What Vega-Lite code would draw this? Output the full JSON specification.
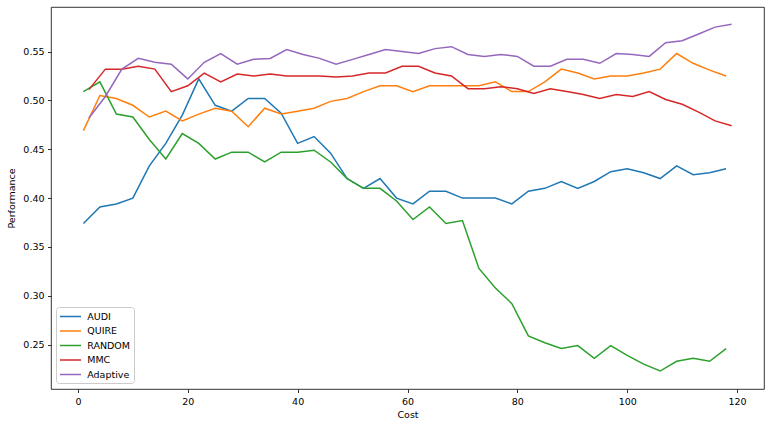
{
  "$schema": "https://vega.github.io/schema/vega-lite/v6.json",
  "width": 713,
  "height": 382,
  "autosize": "none",
  "padding": {"left": 51, "top": 7, "right": 6, "bottom": 32},
  "data": {"values": [
    {"s":"AUDI","c":1,"p":0.374},{"s":"AUDI","c":4,"p":0.391},{"s":"AUDI","c":7,"p":0.394},{"s":"AUDI","c":10,"p":0.400},{"s":"AUDI","c":13,"p":0.433},{"s":"AUDI","c":16,"p":0.456},{"s":"AUDI","c":19,"p":0.485},{"s":"AUDI","c":22,"p":0.522},{"s":"AUDI","c":25,"p":0.495},{"s":"AUDI","c":28,"p":0.489},{"s":"AUDI","c":31,"p":0.502},{"s":"AUDI","c":34,"p":0.502},{"s":"AUDI","c":37,"p":0.487},{"s":"AUDI","c":40,"p":0.456},{"s":"AUDI","c":43,"p":0.463},{"s":"AUDI","c":46,"p":0.446},{"s":"AUDI","c":49,"p":0.420},{"s":"AUDI","c":52,"p":0.410},{"s":"AUDI","c":55,"p":0.420},{"s":"AUDI","c":58,"p":0.400},{"s":"AUDI","c":61,"p":0.394},{"s":"AUDI","c":64,"p":0.407},{"s":"AUDI","c":67,"p":0.407},{"s":"AUDI","c":70,"p":0.400},{"s":"AUDI","c":73,"p":0.400},{"s":"AUDI","c":76,"p":0.400},{"s":"AUDI","c":79,"p":0.394},{"s":"AUDI","c":82,"p":0.407},{"s":"AUDI","c":85,"p":0.410},{"s":"AUDI","c":88,"p":0.417},{"s":"AUDI","c":91,"p":0.410},{"s":"AUDI","c":94,"p":0.417},{"s":"AUDI","c":97,"p":0.427},{"s":"AUDI","c":100,"p":0.430},{"s":"AUDI","c":103,"p":0.426},{"s":"AUDI","c":106,"p":0.420},{"s":"AUDI","c":109,"p":0.433},{"s":"AUDI","c":112,"p":0.424},{"s":"AUDI","c":115,"p":0.426},{"s":"AUDI","c":118,"p":0.430},
    {"s":"QUIRE","c":1,"p":0.469},{"s":"QUIRE","c":4,"p":0.505},{"s":"QUIRE","c":7,"p":0.502},{"s":"QUIRE","c":10,"p":0.495},{"s":"QUIRE","c":13,"p":0.483},{"s":"QUIRE","c":16,"p":0.489},{"s":"QUIRE","c":19,"p":0.479},{"s":"QUIRE","c":22,"p":0.486},{"s":"QUIRE","c":25,"p":0.492},{"s":"QUIRE","c":28,"p":0.489},{"s":"QUIRE","c":31,"p":0.473},{"s":"QUIRE","c":34,"p":0.492},{"s":"QUIRE","c":37,"p":0.486},{"s":"QUIRE","c":40,"p":0.489},{"s":"QUIRE","c":43,"p":0.492},{"s":"QUIRE","c":46,"p":0.499},{"s":"QUIRE","c":49,"p":0.502},{"s":"QUIRE","c":52,"p":0.509},{"s":"QUIRE","c":55,"p":0.515},{"s":"QUIRE","c":58,"p":0.515},{"s":"QUIRE","c":61,"p":0.509},{"s":"QUIRE","c":64,"p":0.515},{"s":"QUIRE","c":67,"p":0.515},{"s":"QUIRE","c":70,"p":0.515},{"s":"QUIRE","c":73,"p":0.515},{"s":"QUIRE","c":76,"p":0.519},{"s":"QUIRE","c":79,"p":0.509},{"s":"QUIRE","c":82,"p":0.509},{"s":"QUIRE","c":85,"p":0.519},{"s":"QUIRE","c":88,"p":0.532},{"s":"QUIRE","c":91,"p":0.528},{"s":"QUIRE","c":94,"p":0.522},{"s":"QUIRE","c":97,"p":0.525},{"s":"QUIRE","c":100,"p":0.525},{"s":"QUIRE","c":103,"p":0.528},{"s":"QUIRE","c":106,"p":0.532},{"s":"QUIRE","c":109,"p":0.548},{"s":"QUIRE","c":112,"p":0.538},{"s":"QUIRE","c":115,"p":0.531},{"s":"QUIRE","c":118,"p":0.525},
    {"s":"RANDOM","c":1,"p":0.509},{"s":"RANDOM","c":4,"p":0.519},{"s":"RANDOM","c":7,"p":0.486},{"s":"RANDOM","c":10,"p":0.483},{"s":"RANDOM","c":13,"p":0.460},{"s":"RANDOM","c":16,"p":0.440},{"s":"RANDOM","c":19,"p":0.466},{"s":"RANDOM","c":22,"p":0.456},{"s":"RANDOM","c":25,"p":0.440},{"s":"RANDOM","c":28,"p":0.447},{"s":"RANDOM","c":31,"p":0.447},{"s":"RANDOM","c":34,"p":0.437},{"s":"RANDOM","c":37,"p":0.447},{"s":"RANDOM","c":40,"p":0.447},{"s":"RANDOM","c":43,"p":0.449},{"s":"RANDOM","c":46,"p":0.437},{"s":"RANDOM","c":49,"p":0.420},{"s":"RANDOM","c":52,"p":0.410},{"s":"RANDOM","c":55,"p":0.410},{"s":"RANDOM","c":58,"p":0.397},{"s":"RANDOM","c":61,"p":0.378},{"s":"RANDOM","c":64,"p":0.391},{"s":"RANDOM","c":67,"p":0.374},{"s":"RANDOM","c":70,"p":0.377},{"s":"RANDOM","c":73,"p":0.328},{"s":"RANDOM","c":76,"p":0.308},{"s":"RANDOM","c":79,"p":0.292},{"s":"RANDOM","c":82,"p":0.259},{"s":"RANDOM","c":85,"p":0.252},{"s":"RANDOM","c":88,"p":0.246},{"s":"RANDOM","c":91,"p":0.249},{"s":"RANDOM","c":94,"p":0.236},{"s":"RANDOM","c":97,"p":0.249},{"s":"RANDOM","c":100,"p":0.239},{"s":"RANDOM","c":103,"p":0.230},{"s":"RANDOM","c":106,"p":0.223},{"s":"RANDOM","c":109,"p":0.233},{"s":"RANDOM","c":112,"p":0.236},{"s":"RANDOM","c":115,"p":0.233},{"s":"RANDOM","c":118,"p":0.246},
    {"s":"MMC","c":2,"p":0.511},{"s":"MMC","c":5,"p":0.532},{"s":"MMC","c":8,"p":0.532},{"s":"MMC","c":11,"p":0.535},{"s":"MMC","c":14,"p":0.532},{"s":"MMC","c":17,"p":0.509},{"s":"MMC","c":20,"p":0.515},{"s":"MMC","c":23,"p":0.528},{"s":"MMC","c":26,"p":0.519},{"s":"MMC","c":29,"p":0.527},{"s":"MMC","c":32,"p":0.525},{"s":"MMC","c":35,"p":0.527},{"s":"MMC","c":38,"p":0.525},{"s":"MMC","c":41,"p":0.525},{"s":"MMC","c":44,"p":0.525},{"s":"MMC","c":47,"p":0.524},{"s":"MMC","c":50,"p":0.525},{"s":"MMC","c":53,"p":0.528},{"s":"MMC","c":56,"p":0.528},{"s":"MMC","c":59,"p":0.535},{"s":"MMC","c":62,"p":0.535},{"s":"MMC","c":65,"p":0.528},{"s":"MMC","c":68,"p":0.525},{"s":"MMC","c":71,"p":0.512},{"s":"MMC","c":74,"p":0.512},{"s":"MMC","c":77,"p":0.514},{"s":"MMC","c":80,"p":0.512},{"s":"MMC","c":83,"p":0.507},{"s":"MMC","c":86,"p":0.512},{"s":"MMC","c":89,"p":0.509},{"s":"MMC","c":92,"p":0.506},{"s":"MMC","c":95,"p":0.502},{"s":"MMC","c":98,"p":0.506},{"s":"MMC","c":101,"p":0.504},{"s":"MMC","c":104,"p":0.509},{"s":"MMC","c":107,"p":0.501},{"s":"MMC","c":110,"p":0.496},{"s":"MMC","c":113,"p":0.488},{"s":"MMC","c":116,"p":0.479},{"s":"MMC","c":119,"p":0.474},
    {"s":"Adaptive","c":2,"p":0.482},{"s":"Adaptive","c":5,"p":0.504},{"s":"Adaptive","c":8,"p":0.532},{"s":"Adaptive","c":11,"p":0.543},{"s":"Adaptive","c":14,"p":0.539},{"s":"Adaptive","c":17,"p":0.537},{"s":"Adaptive","c":20,"p":0.522},{"s":"Adaptive","c":23,"p":0.539},{"s":"Adaptive","c":26,"p":0.548},{"s":"Adaptive","c":29,"p":0.537},{"s":"Adaptive","c":32,"p":0.542},{"s":"Adaptive","c":35,"p":0.543},{"s":"Adaptive","c":38,"p":0.552},{"s":"Adaptive","c":41,"p":0.547},{"s":"Adaptive","c":44,"p":0.543},{"s":"Adaptive","c":47,"p":0.537},{"s":"Adaptive","c":50,"p":0.542},{"s":"Adaptive","c":53,"p":0.547},{"s":"Adaptive","c":56,"p":0.552},{"s":"Adaptive","c":59,"p":0.550},{"s":"Adaptive","c":62,"p":0.548},{"s":"Adaptive","c":65,"p":0.553},{"s":"Adaptive","c":68,"p":0.555},{"s":"Adaptive","c":71,"p":0.547},{"s":"Adaptive","c":74,"p":0.545},{"s":"Adaptive","c":77,"p":0.547},{"s":"Adaptive","c":80,"p":0.545},{"s":"Adaptive","c":83,"p":0.535},{"s":"Adaptive","c":86,"p":0.535},{"s":"Adaptive","c":89,"p":0.542},{"s":"Adaptive","c":92,"p":0.542},{"s":"Adaptive","c":95,"p":0.538},{"s":"Adaptive","c":98,"p":0.548},{"s":"Adaptive","c":101,"p":0.547},{"s":"Adaptive","c":104,"p":0.545},{"s":"Adaptive","c":107,"p":0.559},{"s":"Adaptive","c":110,"p":0.561},{"s":"Adaptive","c":113,"p":0.568},{"s":"Adaptive","c":116,"p":0.575},{"s":"Adaptive","c":119,"p":0.578}
  ]},
  "mark": {"type": "line", "strokeWidth": 1.5, "clip": true},
  "encoding": {
    "x": {
      "field": "c", "type": "quantitative", "title": "Cost",
      "scale": {"domain": [-4.9, 124.9], "nice": false, "zero": false},
      "axis": {"values": [0, 20, 40, 60, 80, 100, 120], "format": "d"}
    },
    "y": {
      "field": "p", "type": "quantitative", "title": "Performance",
      "scale": {"domain": [0.2046, 0.5956], "nice": false, "zero": false},
      "axis": {"values": [0.25, 0.30, 0.35, 0.40, 0.45, 0.50, 0.55], "format": ".2f"}
    },
    "color": {
      "field": "s", "type": "nominal",
      "scale": {"domain": ["AUDI", "QUIRE", "RANDOM", "MMC", "Adaptive"], "range": ["#1f77b4", "#ff7f0e", "#2ca02c", "#d62728", "#9467bd"]},
      "legend": {
        "title": null, "orient": "none", "legendX": 5, "legendY": 300, "direction": "vertical",
        "fillColor": "rgba(255,255,255,0.8)", "strokeColor": "#cccccc", "cornerRadius": 3, "padding": 3.5,
        "symbolType": "M-1.1,0H3.1", "symbolSize": 100, "symbolStrokeWidth": 1.5,
        "labelFontSize": 9.5, "labelFont": "DejaVu Sans", "labelColor": "black", "labelOffset": 15.7,
        "rowPadding": 3.5
      }
    }
  },
  "config": {
    "view": {"stroke": "black", "strokeWidth": 0.8},
    "axis": {
      "domain": false, "grid": false, "ticks": true, "tickColor": "black", "tickSize": 3.5, "tickWidth": 0.8,
      "labelFont": "DejaVu Sans", "labelFontSize": 9.5, "labelColor": "black", "labelPadding": 3.5,
      "titleFont": "DejaVu Sans", "titleFontSize": 9.5, "titleFontWeight": "normal", "titleColor": "black"
    },
    "axisX": {"titlePadding": 4},
    "axisY": {"titlePadding": 6}
  }
}
